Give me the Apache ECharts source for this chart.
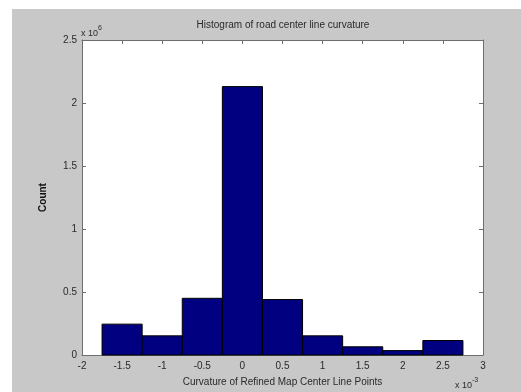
<!DOCTYPE html>
<html>
<head>
<meta charset="utf-8">
<script src="https://cdn.jsdelivr.net/npm/echarts@6/dist/echarts.min.js"></script>
<style>
  html, body { margin: 0; padding: 0; background: #fff; }
  #wrap { position: relative; width: 521px; height: 392px; background: #fff; overflow: hidden; }
  #chart { position: absolute; left: 12px; top: 9px; width: 509px; height: 383px; background: #c8c8c8; }
</style>
</head>
<body>
<div id="wrap"><div id="chart"></div></div>
<script>
// bin centres in units of 1e-3, counts in units of 1e6
const binCenters = [-1.5, -1, -0.5, 0, 0.5, 1, 1.5, 2, 2.5];
const counts = [0.245, 0.152, 0.45, 2.13, 0.44, 0.152, 0.065, 0.035, 0.115];
const binWidth = 0.5;
const xTicks = [-2, 3, 0.5];   // min, max, step
const yTicks = [0, 2.5, 0.5];

const chart = echarts.init(document.getElementById('chart'));

const font = 'Liberation Sans, Arial, sans-serif';
const txt = '#2a2a2a';
const lineCol = '#6e6e6e';

const fmt = (v) => String(Math.round(v * 10) / 10);

const boxAxis = {
  axisLine: { show: true, onZero: false, lineStyle: { color: lineCol, width: 1 } },
  axisTick: { show: true, inside: true, length: 4, lineStyle: { color: lineCol } },
  splitLine: { show: false },
};

const option = {
  backgroundColor: 'transparent',
  animation: false,
  grid: { left: 70, top: 31, width: 401, height: 315 },
  xAxis: [
    {
      type: 'value', min: xTicks[0], max: xTicks[1], interval: xTicks[2],
      position: 'bottom',
      ...boxAxis,
      axisLabel: { color: txt, fontFamily: font, fontSize: 10, margin: 6, formatter: fmt },
      name: 'Curvature of Refined Map Center Line Points',
      nameLocation: 'middle', nameGap: 22,
      nameTextStyle: { color: txt, fontFamily: font, fontSize: 10 },
    },
    {
      type: 'value', min: xTicks[0], max: xTicks[1], interval: xTicks[2],
      position: 'top',
      ...boxAxis,
      axisLabel: { show: false },
    },
  ],
  yAxis: [
    {
      type: 'value', min: yTicks[0], max: yTicks[1], interval: yTicks[2],
      position: 'left',
      ...boxAxis,
      axisLabel: { color: txt, fontFamily: font, fontSize: 10, margin: 5, formatter: fmt },
      name: 'Count',
      nameLocation: 'middle', nameGap: 34, nameRotate: 90,
      nameTextStyle: { color: '#111', fontFamily: font, fontSize: 10, fontWeight: 'bold' },
    },
    {
      type: 'value', min: yTicks[0], max: yTicks[1], interval: yTicks[2],
      position: 'right',
      ...boxAxis,
      axisLabel: { show: false },
    },
  ],
  graphic: [
    {
      type: 'rect', z: -1, silent: true,
      shape: { x: 70, y: 31, width: 401, height: 315 },
      style: { fill: '#fff' },
    },
    {
      type: 'text', x: 271, y: 16,
      style: {
        text: 'Histogram of road center line curvature',
        fill: txt, font: '10px ' + font, align: 'center', verticalAlign: 'middle',
      },
    },
    {
      type: 'text', x: 69, y: 16,
      style: {
        text: '{b|x 10}{s|6}',
        rich: {
          b: { fill: txt, font: '9px ' + font, verticalAlign: 'bottom' },
          s: { fill: txt, font: '7px ' + font, padding: [0, 0, 6, 0], verticalAlign: 'bottom' },
        },
      },
    },
    {
      type: 'text', x: 443, y: 368,
      style: {
        text: '{b|x 10}{s|-3}',
        rich: {
          b: { fill: txt, font: '9px ' + font, verticalAlign: 'bottom' },
          s: { fill: txt, font: '7px ' + font, padding: [0, 0, 6, 0], verticalAlign: 'bottom' },
        },
      },
    },
  ],
  series: [
    {
      type: 'custom',
      xAxisIndex: 0, yAxisIndex: 0,
      data: binCenters.map((c, i) => [c, counts[i]]),
      renderItem: (params, api) => {
        const c = api.value(0);
        const h = api.value(1);
        const p0 = api.coord([c - binWidth / 2, h]);
        const p1 = api.coord([c + binWidth / 2, 0]);
        return {
          type: 'rect',
          shape: { x: p0[0], y: p0[1], width: p1[0] - p0[0], height: p1[1] - p0[1] },
          style: { fill: '#000080', stroke: '#000', lineWidth: 1 },
        };
      },
    },
  ],
};

chart.setOption(option);
</script>
</body>
</html>
